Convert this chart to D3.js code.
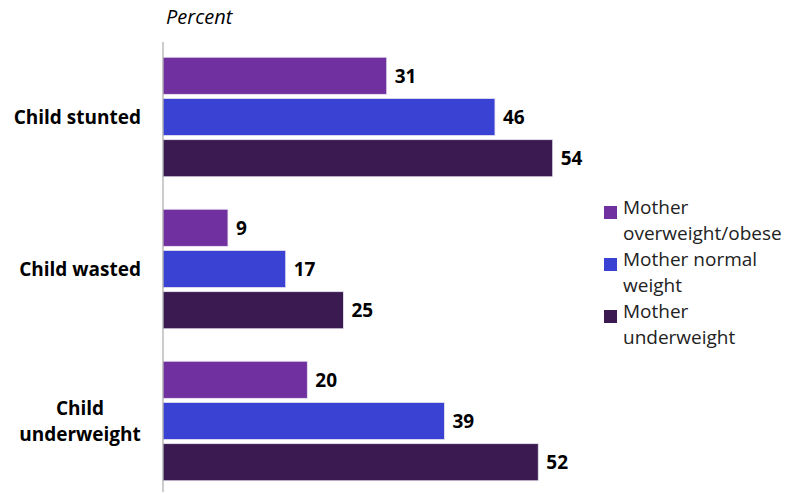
<!DOCTYPE html>
<html><head><meta charset="utf-8">
<script src="https://cdn.jsdelivr.net/npm/d3@7"></script>
<style>body{margin:0;background:#fff}svg{display:block}text{font-family:"Open Sans",sans-serif}</style>
</head><body><svg id="c" width="801" height="494"></svg>
<script>
const categories = [["Child stunted"], ["Child wasted"], ["Child", "underweight"]];
const seriesNames = [["Mother", "overweight/obese"], ["Mother normal", "weight"], ["Mother", "underweight"]];
const overweight = [31, 9, 20];
const normal = [46, 17, 39];
const underweight = [54, 25, 52];
const colors = ["#7030A0", "#3A42D4", "#3A1A50"];

const series = [overweight, normal, underweight];
const svg = d3.select("#c");
const x = d3.scaleLinear().domain([0, 60]).range([163, 596]);
const y0 = d3.scaleBand().domain(d3.range(categories.length)).range([41, 497]);
const y1 = d3.scaleBand().domain(d3.range(series.length)).range([15, y0.bandwidth() - 15]).paddingInner(0.1).paddingOuter(0.03);

const g = svg.selectAll("g.grp").data(categories).join("g").attr("transform", (d, i) => `translate(0,${y0(i)})`);
series.forEach((s, si) => {
  g.append("rect")
    .attr("x", x(0)).attr("y", y1(si))
    .attr("width", (d, i) => x(s[i]) - x(0)).attr("height", y1.bandwidth())
    .attr("fill", colors[si]).attr("stroke", "#e8e4f0").attr("stroke-width", 0.8);
  g.append("text")
    .attr("x", (d, i) => x(s[i]) + 8).attr("y", y1(si) + y1.bandwidth() / 2)
    .attr("dy", "0.36em").attr("font-size", 19).attr("font-weight", "bold").attr("fill", "#000")
    .text((d, i) => s[i]);
});

// axis line
svg.append("line").attr("x1", x(0)).attr("x2", x(0)).attr("y1", 42).attr("y2", 492).attr("stroke", "#999").attr("stroke-width", 1);

// category labels
g.each(function(d, i) {
  const cy = y0.bandwidth() / 2;
  const multi = d.length > 1;
  const t = d3.select(this).append("text").attr("text-anchor", multi ? "middle" : "end")
    .attr("font-size", 19).attr("font-weight", "bold").attr("fill", "#000");
  d.forEach((line, li) => {
    t.append("tspan").attr("x", multi ? 80 : 141)
      .attr("y", cy + (li - (d.length - 1) / 2) * 26).attr("dy", "0.36em").text(line);
  });
});

svg.append("text").attr("x", 166).attr("y", 24).attr("font-size", 20).attr("font-style", "italic").attr("fill", "#000").text("Percent");

// legend
const lg = svg.append("g").attr("transform", "translate(604,0)");
const legBase = [214, 266, 318];
seriesNames.forEach((n, i) => {
  lg.append("rect").attr("x", 0).attr("y", legBase[i] - 8).attr("width", 13).attr("height", 13).attr("fill", colors[i]);
  const t = lg.append("text").attr("font-size", 19).attr("fill", "#222");
  n.forEach((line, li) => t.append("tspan").attr("x", 19).attr("y", legBase[i] + li * 26).text(line));
});
</script></body></html>
